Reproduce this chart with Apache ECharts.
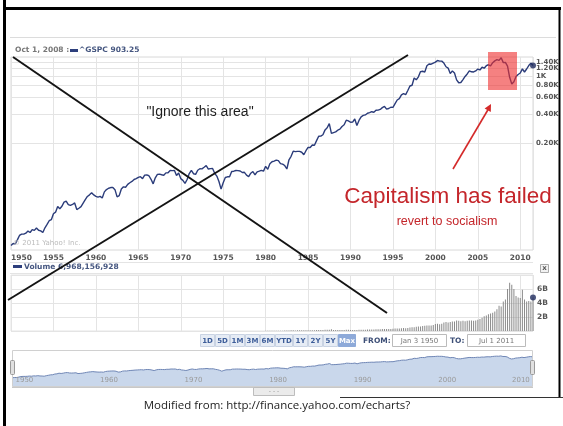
<!DOCTYPE html>
<html><head><meta charset="utf-8">
<script src="https://cdn.jsdelivr.net/npm/echarts@6/dist/echarts.min.js"></script>
<style>html,body{margin:0;padding:0;background:#fff}#c{width:563px;height:426px}</style>
</head><body><div id="c"></div>
<script>
// ---------- DATA ----------
const priceStartYear = 1950;          // quarterly closes (Jan, Apr, Jul, Oct)
const gspc = [
  17.0,17.9,17.7,19.5, 21.7,22.4,22.4,22.9, 24.1,23.3,25.0,24.5, 26.0,24.6,24.2,23.3,
  26.1,28.3,30.9,31.7, 36.6,38.0,43.5,41.2, 43.8,48.4,49.4,45.6, 44.7,45.7,47.4,40.4,
  41.7,43.4,47.2,51.3, 55.4,57.6,60.5,57.5, 55.6,54.4,55.5,53.4, 61.8,65.3,67.4,68.6,
  68.8,65.2,54.8,56.5, 66.2,69.8,69.1,74.0, 77.0,79.5,83.2,84.9, 87.6,89.1,85.0,92.4,
  92.9,91.1,83.6,75.0, 86.6,94.0,94.8,93.3, 92.2,97.6,97.7,103.4, 103.0,103.7,91.8,97.1,
  85.0,81.5,75.7,83.3, 95.9,103.9,95.6,94.2, 103.9,107.7,107.4,111.6, 116.0,107.0,108.2,108.3,
  96.6,90.3,79.3,66.0, 77.0,87.3,88.8,89.0, 100.9,101.6,103.4,102.9, 102.0,98.4,98.9,92.3,
  89.3,96.8,100.7,93.2, 99.9,101.8,103.8,101.8, 114.2,106.3,121.7,127.5, 129.6,132.8,130.9,121.9,
  120.4,116.4,107.1,133.7, 145.3,164.4,162.6,163.6, 163.4,160.1,150.7,166.1, 179.6,179.8,190.9,189.8,
  211.8,235.5,236.1,244.0, 274.1,288.4,318.7,251.8, 257.1,261.3,272.0,279.0, 297.5,309.6,346.1,340.4,
  329.1,330.8,356.2,304.0, 343.9,375.3,387.8,392.5, 408.8,415.0,424.2,418.7, 438.8,440.2,448.1,467.8,
  481.6,450.9,458.3,472.4, 470.4,514.7,562.1,581.5, 636.0,654.2,640.0,705.3, 786.2,801.3,954.3,914.6,
  980.3,1111.8,1120.7,1098.7, 1279.6,1335.2,1328.7,1362.9, 1394.5,1452.4,1430.8,1429.4, 1366.0,1249.5,1211.2,1059.8,
  1130.2,1076.9,911.6,850.0, 855.7,916.9,990.3,1050.7, 1131.1,1107.3,1101.7,1130.2, 1181.3,1156.9,1234.2,1207.0,
  1280.1,1310.6,1276.7,1377.9, 1438.2,1482.4,1455.3,1549.4, 1378.6,1385.6,1267.4,968.8, 825.9,872.8,987.5,1036.2,
  1073.9,1186.7,1101.6,1183.3, 1286.1,1363.6,1290.0
];
const volStartYear = 1980;            // quarterly average daily volume, billions
const volume = [
  0.04,0.05,0.05,0.05, 0.05,0.05,0.05,0.05, 0.05,0.06,0.06,0.08, 0.09,0.09,0.08,0.09,
  0.09,0.09,0.09,0.09, 0.10,0.11,0.11,0.11, 0.14,0.15,0.13,0.14, 0.18,0.19,0.18,0.25,
  0.16,0.16,0.16,0.15, 0.16,0.16,0.17,0.17, 0.16,0.15,0.16,0.16, 0.18,0.18,0.17,0.18,
  0.21,0.20,0.20,0.20, 0.26,0.26,0.25,0.27, 0.30,0.30,0.28,0.29, 0.32,0.34,0.35,0.36,
  0.40,0.42,0.40,0.42, 0.50,0.52,0.55,0.60, 0.65,0.65,0.70,0.75, 0.80,0.80,0.80,0.85,
  1.00,1.05,0.95,1.05, 1.20,1.30,1.20,1.30, 1.35,1.35,1.50,1.45, 1.40,1.45,1.40,1.45,
  1.50,1.50,1.45,1.50, 1.60,1.70,1.90,2.10, 2.20,2.40,2.50,2.60, 2.80,3.10,3.60,3.50,
  4.20,4.50,6.00,6.90, 6.60,6.00,5.00,4.80, 4.70,5.90,4.50,4.20, 4.30,4.20,4.80
];
const priceTicks = [200, 400, 600, 800, 1000, 1200, 1400];
const priceTickLabels = ['0.20K','0.40K','0.60K','0.80K','1K','1.20K','1.40K'];
const volTicks = [2, 4, 6];
const volTickLabels = ['2B','4B','6B'];
const navDividers = [1960, 1970, 1980, 1990, 2000, 2010];
const rangeButtons = ['1D','5D','1M','3M','6M','YTD','1Y','2Y','5Y','Max'];

// ---------- BUILD ----------
const pricePts = gspc.map((v, i) => [priceStartYear + i / 4, v]);
const volPts = volume.map((v, i) => [volStartYear + i / 4, v]);
const lastP = pricePts[pricePts.length - 1];
const lastV = volPts[volPts.length - 1];
const XMIN = 1950, XMAX = 2011.5;
const FONT = 'DejaVu Sans';
const GRID = '#e4e4e4';

const chart = echarts.init(document.getElementById('c'), null, {renderer: 'canvas'});

const graphics = [];
// outer black frame
graphics.push({type:'line', shape:{x1:4.5,y1:0,x2:4.5,y2:426}, style:{stroke:'#000',lineWidth:3}, z:100});
graphics.push({type:'line', shape:{x1:3,y1:8.5,x2:561,y2:8.5}, style:{stroke:'#000',lineWidth:3}, z:100});
graphics.push({type:'line', shape:{x1:559.5,y1:7,x2:559.5,y2:397}, style:{stroke:'#000',lineWidth:2}, z:100});
graphics.push({type:'line', shape:{x1:340,y1:397.5,x2:563,y2:397.5}, style:{stroke:'#333',lineWidth:1}, z:100});
// yahoo chart frame lines
graphics.push({type:'line', shape:{x1:10,y1:37.5,x2:556,y2:37.5}, style:{stroke:'#dcdcdc',lineWidth:1}, z:1});
graphics.push({type:'line', shape:{x1:10,y1:262.5,x2:533,y2:262.5}, style:{stroke:'#e4e4e4',lineWidth:1}, z:1});
graphics.push({type:'line', shape:{x1:10,y1:273.5,x2:533,y2:273.5}, style:{stroke:'#e4e4e4',lineWidth:1}, z:1});
// legend
graphics.push({type:'text', left:15, top:46, style:{text:'Oct 1, 2008 :', font:'bold 7.5px "DejaVu Sans"', fill:'#777'}, z:20});
graphics.push({type:'rect', shape:{x:70,y:49,width:8,height:3}, style:{fill:'#2d3f7c'}, z:20});
graphics.push({type:'text', left:79, top:46, style:{text:'^GSPC 903.25', font:'bold 7.5px "DejaVu Sans"', fill:'#44557f'}, z:20});
graphics.push({type:'text', left:13, top:240, style:{text:'\u00a9 2011 Yahoo! Inc.', font:'7px "DejaVu Sans"', fill:'#bbbbbb'}, z:20});
graphics.push({type:'rect', shape:{x:13,y:265,width:9,height:3}, style:{fill:'#2d3f7c'}, z:20});
graphics.push({type:'text', left:24, top:263, style:{text:'Volume 6,968,156,928', font:'bold 7.5px "DejaVu Sans"', fill:'#44557f'}, z:20});
// close box
graphics.push({type:'rect', shape:{x:540.5,y:264.5,width:8,height:8}, style:{fill:'#f2f2f2',stroke:'#aaa',lineWidth:1}, z:20});
graphics.push({type:'text', x:544.5, y:268.5, style:{text:'x', font:'bold 7px "DejaVu Sans"', fill:'#555', align:'center', verticalAlign:'middle'}, z:21});
// range buttons
let bx = 200;
rangeButtons.forEach((t) => {
  const sel = t === 'Max';
  const w = t.length === 3 ? 17 : 14;
  graphics.push({type:'rect', shape:{x:bx+0.5,y:334.5,width:w,height:12}, style:{fill: sel ? '#8eaad9' : '#e6ecf5', stroke: sel ? '#8eaad9' : '#c9d3e3', lineWidth:1}, z:20});
  graphics.push({type:'text', x:bx+0.5+w/2, y:341, style:{text:t, font:'bold 7px "DejaVu Sans"', fill: sel ? '#fff' : '#3d5d99', align:'center', verticalAlign:'middle'}, z:21});
  bx += w + 1;
});
graphics.push({type:'text', x:363, y:341, style:{text:'FROM:', font:'bold 7.5px "DejaVu Sans"', fill:'#3d4f77', verticalAlign:'middle'}, z:21});
graphics.push({type:'rect', shape:{x:392.5,y:334.5,width:54,height:12}, style:{fill:'#fff',stroke:'#bbb',lineWidth:1}, z:20});
graphics.push({type:'text', x:419.5, y:341, style:{text:'Jan 3 1950', font:'7px "DejaVu Sans"', fill:'#777', align:'center', verticalAlign:'middle'}, z:21});
graphics.push({type:'text', x:450, y:341, style:{text:'TO:', font:'bold 7.5px "DejaVu Sans"', fill:'#3d4f77', verticalAlign:'middle'}, z:21});
graphics.push({type:'rect', shape:{x:467.5,y:334.5,width:58,height:12}, style:{fill:'#fff',stroke:'#bbb',lineWidth:1}, z:20});
graphics.push({type:'text', x:496.5, y:341, style:{text:'Jul 1 2011', font:'7px "DejaVu Sans"', fill:'#777', align:'center', verticalAlign:'middle'}, z:21});
// navigator frame, handles, scrollbar
graphics.push({type:'rect', shape:{x:12.5,y:350.5,width:520,height:36}, style:{fill:'none',stroke:'#d0d0d0',lineWidth:1}, z:19});
graphics.push({type:'rect', shape:{x:10.5,y:360.5,width:4,height:14, r:1}, style:{fill:'#e0e0e0',stroke:'#999',lineWidth:1}, z:22});
graphics.push({type:'rect', shape:{x:530.5,y:360.5,width:4,height:14, r:1}, style:{fill:'#e0e0e0',stroke:'#999',lineWidth:1}, z:22});
graphics.push({type:'line', shape:{x1:12,y1:387.5,x2:533,y2:387.5}, style:{stroke:'#c8c8c8',lineWidth:1}, z:19});
graphics.push({type:'rect', shape:{x:253.5,y:387.5,width:41,height:8}, style:{fill:'#ebebeb',stroke:'#bdbdbd',lineWidth:1}, z:20});
graphics.push({type:'text', x:274, y:391.5, style:{text:'- - -', font:'6px "DejaVu Sans"', fill:'#999', align:'center', verticalAlign:'middle'}, z:21});
// annotations
graphics.push({type:'text', x:200, y:112, style:{text:'"Ignore this area"', font:'14px "Liberation Sans"', fill:'#1e1e1e', align:'center', verticalAlign:'middle'}, z:30});
graphics.push({type:'text', x:448, y:197, style:{text:'Capitalism has failed', font:'22.5px "Liberation Sans"', fill:'#c4262b', align:'center', verticalAlign:'middle'}, z:30});
graphics.push({type:'text', x:447, y:222, style:{text:'revert to socialism', font:'12.5px "Liberation Sans"', fill:'#c4262b', align:'center', verticalAlign:'middle'}, z:30});
graphics.push({type:'rect', shape:{x:488,y:52,width:29,height:38}, style:{fill:'rgba(238,45,45,0.6)'}, z:30});
graphics.push({type:'line', shape:{x1:453,y1:169,x2:489,y2:108}, style:{stroke:'#d42a2a',lineWidth:1.6}, z:30});
graphics.push({type:'polygon', shape:{points:[[491,104],[490.8,112],[484.6,108.4]]}, style:{fill:'#d42a2a'}, z:30});
graphics.push({type:'line', shape:{x1:13,y1:57,x2:387,y2:313}, style:{stroke:'#141414',lineWidth:2}, z:30});
graphics.push({type:'line', shape:{x1:8,y1:300,x2:408,y2:55}, style:{stroke:'#141414',lineWidth:2}, z:30});
// caption
graphics.push({type:'text', x:277, y:406, style:{text:'Modified from: http://finance.yahoo.com/echarts?', font:'11.5px "Open Sans"', fill:'#222', align:'center', verticalAlign:'middle'}, z:30});

const xAxisBase = (gi) => ({
  type:'value', gridIndex:gi, min:XMIN, max:XMAX, interval:5,
  axisLine:{show:false}, axisTick:{show:false},
  splitLine:{show:true, lineStyle:{color:GRID, width:1}},
});

const option = {
  animation:false,
  backgroundColor:'#ffffff',
  grid:[
    {left:11, right:30, top:57, bottom:176, show:true, borderColor:'#d8d8d8', borderWidth:1, backgroundColor:'transparent'},
    {left:11, right:30, top:275, bottom:95, show:true, borderColor:'#e4e4e4', borderWidth:1, backgroundColor:'transparent'},
    {left:12.5, right:30.5, top:351, bottom:39}
  ],
  xAxis:[
    Object.assign(xAxisBase(0), {axisLabel:{show:true, margin:4, fontFamily:FONT, fontWeight:'bold', fontSize:7.5, color:'#555', alignMinLabel:'left', formatter:v => (v % 5 === 0 ? String(v) : '')}}),
    Object.assign(xAxisBase(1), {axisLabel:{show:false}}),
    {type:'value', gridIndex:2, min:XMIN, max:XMAX, interval:10, z:20, axisLine:{show:false}, axisTick:{show:false}, splitLine:{show:false},
     axisLabel:{show:true, inside:true, margin:3, align:'left', padding:[0,0,0,3], fontFamily:FONT, fontSize:7, color:'#9a9a9a',
                formatter:v => (v % 10 === 0 && v < 2010 ? String(v) : '')}}
  ],
  yAxis:[
    {type:'log', gridIndex:0, min:15.3, max:1579, axisLine:{show:false}, axisTick:{show:false}, axisLabel:{show:false}, splitLine:{show:false}},
    {type:'value', gridIndex:1, min:0, max:8, interval:2, position:'right', axisLine:{show:false}, axisTick:{show:false},
     splitLine:{show:true, lineStyle:{color:GRID}},
     axisLabel:{show:true, margin:4, fontFamily:FONT, fontWeight:'bold', fontSize:7.5, color:'#555', formatter:v => { const k = volTicks.indexOf(v); return k >= 0 ? volTickLabels[k] : ''; }}},
    {type:'log', gridIndex:2, min:2.5, max:4300, show:false}
  ],
  series:[
    {type:'line', xAxisIndex:0, yAxisIndex:0, data:pricePts, showSymbol:false, silent:true, z:1,
     lineStyle:{opacity:0},
     markLine:{silent:true, symbol:'none', animation:false,
       lineStyle:{color:GRID, width:1, type:'solid'},
       label:{position:'end', distance:3, fontFamily:FONT, fontWeight:'bold', fontSize:7, color:'#555',
              formatter:p => priceTickLabels[priceTicks.indexOf(p.value)]},
       data: priceTicks.map(v => ({yAxis:v}))}},
    {type:'line', xAxisIndex:0, yAxisIndex:0, data:pricePts, showSymbol:false, z:5,
     lineStyle:{color:'#2b3c7a', width:1.4}},
    {type:'scatter', xAxisIndex:0, yAxisIndex:0, data:[lastP], symbolSize:6, itemStyle:{color:'#1f2c5e'}, z:6},
    {type:'bar', xAxisIndex:1, yAxisIndex:1, data:volPts, barWidth:1, itemStyle:{color:'#8a8a8a'}, z:5},
    {type:'scatter', xAxisIndex:1, yAxisIndex:1, data:[lastV], symbolSize:6, itemStyle:{color:'#1f2c5e'}, z:6},
    {type:'line', xAxisIndex:2, yAxisIndex:2, data:pricePts, showSymbol:false, z:5,
     lineStyle:{color:'#6f86b5', width:1}, areaStyle:{color:'#c9d7eb', opacity:1},
     markLine:{silent:true, symbol:'none', animation:false, label:{show:false},
       lineStyle:{color:'#ffffff', width:1, type:'solid'},
       data: navDividers.map(v => ({xAxis:v}))}}
  ],
  graphic: graphics
};
chart.setOption(option);
// last navigator label, right-aligned against the handle
const p2010 = chart.convertToPixel({xAxisIndex:2}, navDividers[navDividers.length - 1]);
chart.setOption({graphic: graphics.concat([{type:'text', x:p2010 + 10, y:380, style:{text:String(navDividers[navDividers.length - 1]), font:'7px "DejaVu Sans"', fill:'#9a9a9a', align:'right', verticalAlign:'middle'}, z:25}])});
</script></body></html>
